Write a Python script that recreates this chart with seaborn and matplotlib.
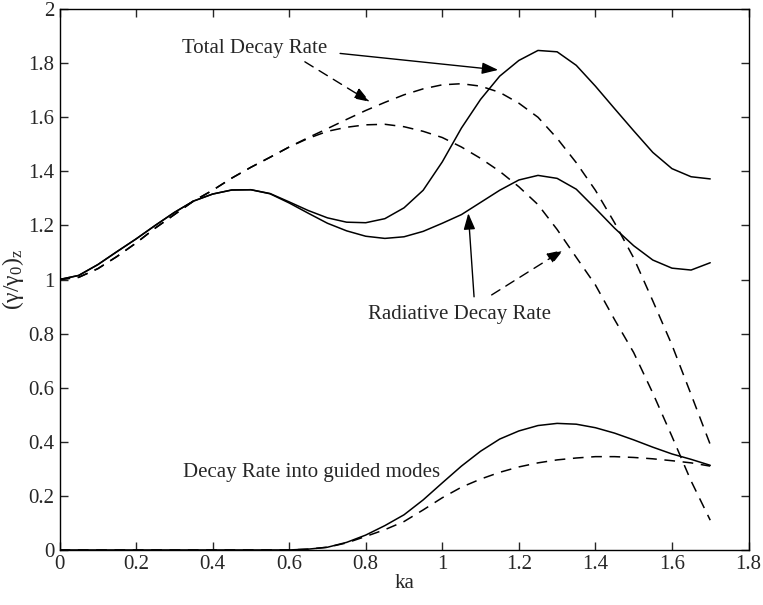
import numpy as np
import pandas as pd
import seaborn as sns
import matplotlib.pyplot as plt
from matplotlib.ticker import FormatStrFormatter

# ka grid and the curves
ka = [0.0, 0.05, 0.1, 0.15, 0.2, 0.25, 0.3, 0.35, 0.4, 0.45, 0.5, 0.55, 0.6, 0.65,
      0.7, 0.75, 0.8, 0.85, 0.9, 0.95, 1.0, 1.05, 1.1, 1.15, 1.2, 1.25, 1.3, 1.35,
      1.4, 1.45, 1.5, 1.55, 1.6, 1.65, 1.7]

total_solid = [1.000, 1.015, 1.055, 1.103, 1.150, 1.200, 1.248, 1.290, 1.316, 1.331,
               1.332, 1.318, 1.287, 1.255, 1.228, 1.212, 1.210, 1.225, 1.265, 1.330,
               1.435, 1.560, 1.666, 1.752, 1.810, 1.847, 1.842, 1.792, 1.715, 1.632,
               1.550, 1.470, 1.410, 1.380, 1.372]

radiative_solid = [1.000, 1.015, 1.055, 1.103, 1.150, 1.200, 1.248, 1.290, 1.316, 1.331,
                   1.332, 1.317, 1.283, 1.245, 1.208, 1.180, 1.160, 1.152, 1.158, 1.178,
                   1.208, 1.240, 1.285, 1.330, 1.368, 1.385, 1.374, 1.334, 1.263, 1.190,
                   1.125, 1.072, 1.042, 1.035, 1.062]

total_dashed = [1.000, 1.008, 1.040, 1.085, 1.135, 1.190, 1.240, 1.290, 1.330, 1.375,
                1.415, 1.452, 1.490, 1.525, 1.558, 1.592, 1.625, 1.655, 1.683, 1.705,
                1.720, 1.724, 1.715, 1.692, 1.652, 1.600, 1.522, 1.432, 1.330, 1.210,
                1.080, 0.921, 0.758, 0.575, 0.390]

radiative_dashed = [1.000, 1.008, 1.040, 1.085, 1.135, 1.190, 1.240, 1.290, 1.330, 1.375,
                    1.415, 1.452, 1.490, 1.522, 1.548, 1.563, 1.572, 1.574, 1.565, 1.548,
                    1.525, 1.490, 1.448, 1.400, 1.343, 1.277, 1.185, 1.082, 0.980, 0.852,
                    0.730, 0.580, 0.420, 0.255, 0.110]

guided_solid = [0, 0, 0, 0, 0, 0, 0, 0, 0, 0, 0, 0, 0.0, 0.003, 0.010, 0.028, 0.055,
                0.090, 0.130, 0.185, 0.248, 0.310, 0.365, 0.410, 0.440, 0.460, 0.468,
                0.465, 0.452, 0.432, 0.407, 0.380, 0.355, 0.335, 0.313]

guided_dashed = [0, 0, 0, 0, 0, 0, 0, 0, 0, 0, 0, 0, 0.0, 0.003, 0.010, 0.026, 0.050,
                 0.075, 0.105, 0.148, 0.193, 0.232, 0.262, 0.287, 0.307, 0.322, 0.333,
                 0.340, 0.345, 0.345, 0.342, 0.337, 0.330, 0.322, 0.310]

df = pd.DataFrame({"ka": ka, "total_solid": total_solid, "radiative_solid": radiative_solid,
                   "total_dashed": total_dashed, "radiative_dashed": radiative_dashed,
                   "guided_solid": guided_solid, "guided_dashed": guided_dashed})

sns.set_style("ticks")
plt.rcParams['font.family'] = ['Liberation Serif', 'DejaVu Serif']
plt.rcParams['mathtext.fontset'] = 'custom'
plt.rcParams['mathtext.rm'] = 'Liberation Serif'
plt.rcParams['mathtext.it'] = 'Liberation Serif'

fig = plt.figure(figsize=(7.63, 6.05), dpi=100)
ax = fig.add_axes([0.078, 0.091, 0.903, 0.894])

dash = (0, (7, 5))
for col in ["total_solid", "radiative_solid", "guided_solid"]:
    sns.lineplot(data=df, x="ka", y=col, color="k", lw=1.1, ax=ax)
for col in ["total_dashed", "radiative_dashed", "guided_dashed"]:
    sns.lineplot(data=df, x="ka", y=col, color="k", lw=1.1, ax=ax, linestyle=dash)

ax.set_xlim(0, 1.8)
ax.set_ylim(0, 2)
ax.set_xticks(np.arange(0, 1.81, 0.2))
ax.set_yticks(np.arange(0, 2.01, 0.2))
ax.xaxis.set_major_formatter(FormatStrFormatter('%g'))
ax.yaxis.set_major_formatter(FormatStrFormatter('%g'))
ax.tick_params(direction='in', top=True, right=True, length=6, width=1, labelsize=15)
for sp in ax.spines.values():
    sp.set_linewidth(1)
    sp.set_color('k')

ax.set_xlabel("ka", fontsize=15, labelpad=0)
ax.set_ylabel(r"$(\gamma/\gamma_0)_z$", fontsize=17, labelpad=2)

# annotations
fs = 15
head = '-|>,head_length=0.7,head_width=0.25'
ax.text(0.319, 1.855, "Total Decay Rate", fontsize=fs, ha='left', va='center')
ax.annotate("", xy=(1.146, 1.775), xytext=(0.733, 1.836),
            arrowprops=dict(arrowstyle=head, color='k', lw=1, mutation_scale=14,
                            shrinkA=0, shrinkB=0))
ax.annotate("", xy=(0.811, 1.657), xytext=(0.641, 1.805),
            arrowprops=dict(arrowstyle=head, color='k', lw=1, mutation_scale=14,
                            shrinkA=0, shrinkB=0, linestyle=dash))

ax.text(0.807, 0.869, "Radiative Decay Rate", fontsize=fs, ha='left', va='center')
ax.annotate("", xy=(1.068, 1.245), xytext=(1.083, 0.936),
            arrowprops=dict(arrowstyle=head, color='k', lw=1, mutation_scale=14,
                            shrinkA=0, shrinkB=0))
ax.annotate("", xy=(1.316, 1.109), xytext=(1.129, 0.943),
            arrowprops=dict(arrowstyle=head, color='k', lw=1, mutation_scale=14,
                            shrinkA=0, shrinkB=0, linestyle=dash))

ax.text(0.323, 0.286, "Decay Rate into guided modes", fontsize=fs, ha='left', va='center')

fig.savefig("out.png", dpi=100)
